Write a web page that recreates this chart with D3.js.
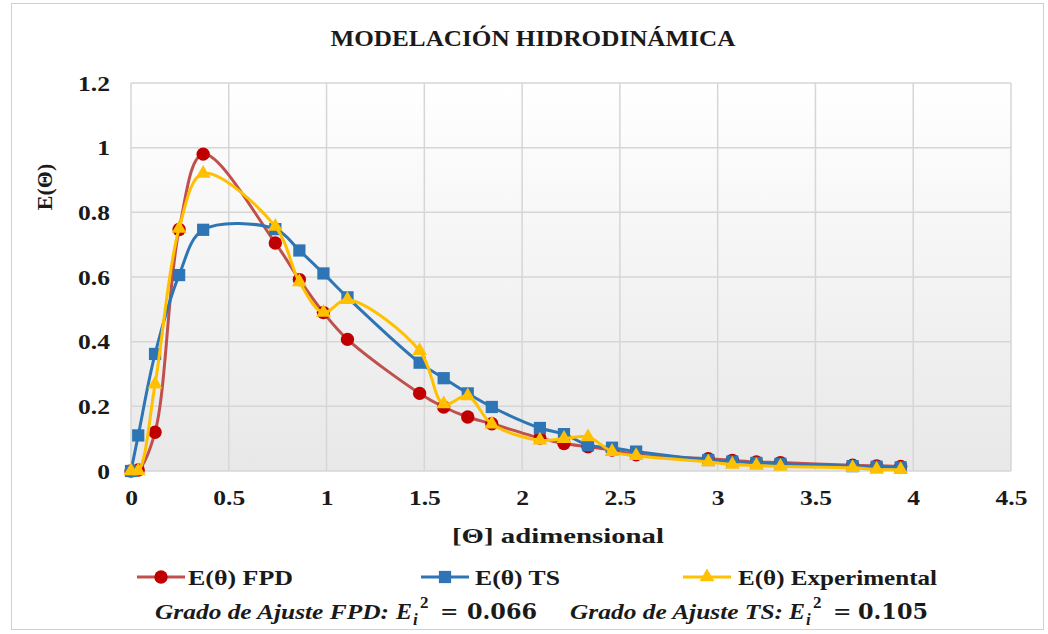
<!DOCTYPE html>
<html>
<head>
<meta charset="utf-8">
<script src="https://cdn.jsdelivr.net/npm/d3@7"></script>
<style>
  html, body { margin: 0; padding: 0; background: #ffffff; }
  svg { display: block; }
  text { font-family: "Liberation Serif", "Times New Roman", serif; fill: #1a1a1a; }
</style>
</head>
<body>
<svg id="chart" width="1048" height="634"></svg>
<script>
// Dimensionless time θ shared by the three curves
const theta = [0, 0.037, 0.123, 0.246, 0.369, 0.738, 0.861, 0.984, 1.107, 1.476, 1.599, 1.722,
  1.845, 2.091, 2.214, 2.337, 2.46, 2.583, 2.952, 3.075, 3.198, 3.321, 3.69, 3.813, 3.936];

// E(θ) – dispersion (FPD) model
const eFPD = [0, 0.003, 0.12, 0.747, 0.98, 0.705, 0.592, 0.49, 0.407, 0.24, 0.198, 0.167,
  0.146, 0.102, 0.085, 0.075, 0.065, 0.05, 0.038, 0.033, 0.028, 0.026, 0.018, 0.016, 0.014];

// E(θ) – tanks in series (TS) model
const eTS = [0, 0.11, 0.362, 0.606, 0.746, 0.748, 0.682, 0.611, 0.537, 0.335, 0.287, 0.24,
  0.198, 0.133, 0.114, 0.08, 0.072, 0.06, 0.034, 0.029, 0.025, 0.022, 0.015, 0.013, 0.011];

// E(θ) – tracer measurements
const eExp = [0, 0, 0.268, 0.75, 0.92, 0.756, 0.585, 0.49, 0.53, 0.372, 0.207, 0.232,
  0.145, 0.095, 0.1, 0.105, 0.06, 0.047, 0.028, 0.02, 0.017, 0.014, 0.01, 0.005, 0.004];

const xTicks = [0, 0.5, 1, 1.5, 2, 2.5, 3, 3.5, 4, 4.5];
const yTicks = [0, 0.2, 0.4, 0.6, 0.8, 1, 1.2];

const seriesNames = ["E(θ) FPD", "E(θ) TS", "E(θ) Experimental"];
const seriesValues = [eFPD, eTS, eExp];

// goodness-of-fit values shown under the legend
const fitLabels = ["Grado de Ajuste FPD:", "Grado de Ajuste TS:"];
const fitValues = ["0.066", "0.105"];

const styles = [
  { line: "#c0504d", fill: "#c00000", symbol: d3.symbolCircle, size: 140 },
  { line: "#2e75b6", fill: "#2e75b6", symbol: d3.symbolSquare, size: 150 },
  { line: "#ffc000", fill: "#ffc000", symbol: d3.symbolTriangle, size: 95 }
];

const svg = d3.select("#chart");
const plot = { left: 131, right: 1011, top: 83, bottom: 471 };

const x = d3.scaleLinear().domain([0, 4.5]).range([plot.left, plot.right]);
const y = d3.scaleLinear().domain([0, 1.2]).range([plot.bottom, plot.top]);

// outer chart frame
svg.append("rect")
  .attr("x", 11.5).attr("y", 3.5).attr("width", 1032).attr("height", 626)
  .attr("fill", "#ffffff").attr("stroke", "#d0d0d0").attr("stroke-width", 1);

// plot-area background gradient
const defs = svg.append("defs");
const grad = defs.append("linearGradient").attr("id", "plotBg")
  .attr("x1", 0).attr("y1", 0).attr("x2", 0).attr("y2", 1);
grad.append("stop").attr("offset", "0%").attr("stop-color", "#ffffff");
grad.append("stop").attr("offset", "100%").attr("stop-color", "#e8e8e8");

svg.append("rect")
  .attr("x", plot.left).attr("y", plot.top)
  .attr("width", plot.right - plot.left).attr("height", plot.bottom - plot.top)
  .attr("fill", "url(#plotBg)");

// gridlines
const grid = svg.append("g").attr("stroke", "#d6d6d6").attr("stroke-width", 1.5);
grid.selectAll("line.v").data(xTicks).join("line")
  .attr("x1", d => x(d)).attr("x2", d => x(d))
  .attr("y1", plot.top).attr("y2", plot.bottom);
grid.selectAll("line.h").data(yTicks).join("line")
  .attr("x1", plot.left).attr("x2", plot.right)
  .attr("y1", d => y(d)).attr("y2", d => y(d));

// stretch a text element horizontally by a factor
function widen(sel, k) {
  sel.each(function () {
    const w = this.getComputedTextLength();
    d3.select(this).attr("textLength", w * k).attr("lengthAdjust", "spacingAndGlyphs");
  });
}

// axes
const fmt = d => String(d);
const xAxis = svg.append("g").attr("transform", `translate(0,${plot.bottom})`)
  .call(d3.axisBottom(x).tickValues(xTicks).tickFormat(fmt).tickSize(0).tickPadding(21));
const yAxis = svg.append("g").attr("transform", `translate(${plot.left},0)`)
  .call(d3.axisLeft(y).tickValues(yTicks).tickFormat(fmt).tickSize(0).tickPadding(21));
[xAxis, yAxis].forEach(a => {
  a.select(".domain").remove();
  a.selectAll("text")
    .style("font-family", '"Liberation Serif", serif')
    .style("font-weight", "bold").style("font-size", "22px").attr("fill", "#1a1a1a");
  widen(a.selectAll("text"), 1.16);
});
xAxis.selectAll("text").attr("dy", "0.6em");

// series
const line = d3.line()
  .x(d => x(d[0])).y(d => y(d[1]))
  .curve(d3.curveCatmullRom.alpha(0.5));

seriesValues.forEach((vals, i) => {
  const pts = theta.map((t, j) => [t, vals[j]]);
  const st = styles[i];
  const g = svg.append("g");
  g.append("path").datum(pts)
    .attr("d", line).attr("fill", "none")
    .attr("stroke", st.line).attr("stroke-width", 3);
  g.selectAll("path.m").data(pts).join("path")
    .attr("transform", d => `translate(${x(d[0])},${y(d[1])})`)
    .attr("d", d3.symbol().type(st.symbol).size(st.size))
    .attr("fill", st.fill);
});

// title
svg.append("text")
  .attr("x", 533).attr("y", 46).attr("text-anchor", "middle")
  .style("font-size", "24px").style("font-weight", "bold")
  .attr("textLength", 405).attr("lengthAdjust", "spacingAndGlyphs")
  .text("MODELACIÓN HIDRODINÁMICA");

// axis titles
svg.append("text")
  .attr("x", 558).attr("y", 543).attr("text-anchor", "middle")
  .style("font-size", "22px").style("font-weight", "bold")
  .attr("textLength", 212).attr("lengthAdjust", "spacingAndGlyphs")
  .text("[Θ] adimensional");

svg.append("text")
  .attr("transform", "translate(52,187) rotate(-90)")
  .attr("text-anchor", "middle")
  .style("font-size", "22px").style("font-weight", "bold")
  .text("E(Θ)");

// legend
const legendPos = [
  { lx: 137, tx: 188, w: 105 },
  { lx: 421, tx: 475, w: 85 },
  { lx: 683, tx: 738, w: 199 }
];
const legend = svg.append("g");
seriesNames.forEach((name, i) => {
  const p = legendPos[i], st = styles[i];
  const ly = 577;
  legend.append("line")
    .attr("x1", p.lx).attr("x2", p.lx + 48).attr("y1", ly).attr("y2", ly)
    .attr("stroke", st.line).attr("stroke-width", 3);
  legend.append("path")
    .attr("transform", `translate(${p.lx + 24},${ly})`)
    .attr("d", d3.symbol().type(st.symbol).size(st.size)).attr("fill", st.fill);
  legend.append("text")
    .attr("x", p.tx).attr("y", ly + 8)
    .style("font-size", "22px").style("font-weight", "bold")
    .attr("textLength", p.w).attr("lengthAdjust", "spacingAndGlyphs")
    .text(name);
});

// goodness-of-fit notes: label, E_i² = value
const fitPos = [
  { x: 155, lw: 234, ex: 396, vx: 467, vw: 70 },
  { x: 570, lw: 213, ex: 789, vx: 858, vw: 70 }
];
fitLabels.forEach((label, i) => {
  const n = fitPos[i];
  const by = 619;
  const g = svg.append("g").style("font-weight", "bold");
  g.append("text").attr("x", n.x).attr("y", by)
    .style("font-size", "22px").style("font-style", "italic")
    .attr("textLength", n.lw).attr("lengthAdjust", "spacingAndGlyphs")
    .text(label);
  g.append("text").attr("x", n.ex).attr("y", by)
    .style("font-size", "24px").style("font-style", "italic").text("E");
  g.append("text").attr("x", n.ex + 17).attr("y", by + 6)
    .style("font-size", "17px").style("font-style", "italic").text("i");
  g.append("text").attr("x", n.ex + 24).attr("y", by - 11)
    .style("font-size", "17px").text("2");
  g.append("text").attr("x", n.ex + 44).attr("y", by)
    .style("font-size", "22px").style("font-family", '"DejaVu Serif", serif')
    .style("font-weight", "normal").text("=");
  g.append("text").attr("x", n.vx).attr("y", by)
    .style("font-size", "23px").style("font-family", '"DejaVu Serif", serif')
    .attr("textLength", n.vw).attr("lengthAdjust", "spacingAndGlyphs")
    .text(fitValues[i]);
});
</script>
</body>
</html>
